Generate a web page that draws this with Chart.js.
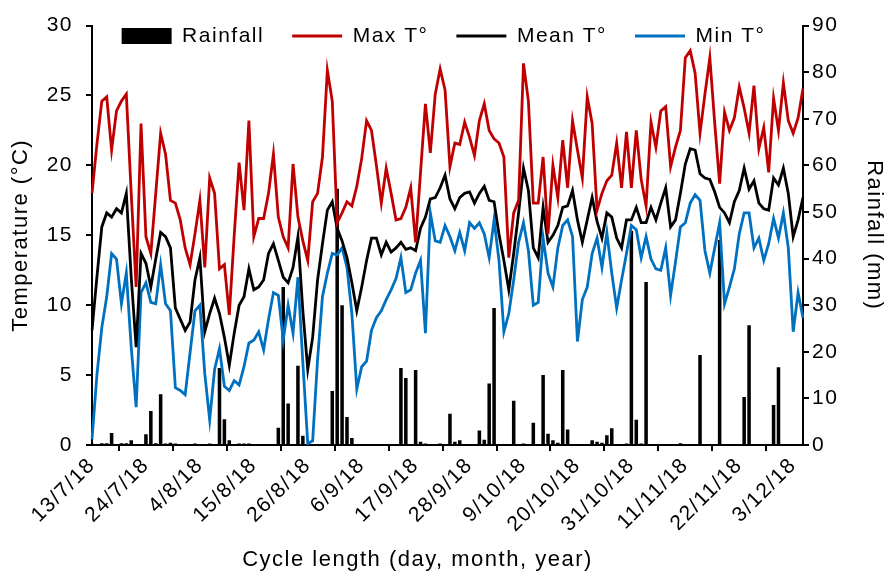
<!DOCTYPE html>
<html>
<head>
<meta charset="utf-8">
<title>Weather during the cycle</title>
<script src="https://cdn.jsdelivr.net/npm/chart.js@4.4.1/dist/chart.umd.min.js"></script>
<style>
  html, body { margin: 0; padding: 0; background: #fff; }
</style>
</head>
<body>
<canvas id="weather" width="887" height="573"></canvas>
<script>

// daily values, 13/7/18 to 5/12/18
var startDay = [2018, 6, 13];
var dayCount = 146;

var tickLabels = ['13/7/18', '24/7/18', '4/8/18', '15/8/18', '26/8/18', '6/9/18', '17/9/18',
  '28/9/18', '9/10/18', '20/10/18', '31/10/18', '11/11/18', '22/11/18', '3/12/18'];

var maxT = [
  18.0, 21.5, 24.6, 24.9, 21.1, 23.9, 24.6, 25.1, 18.0, 11.3,
  23.0, 14.9, 13.7, 18.0, 22.3, 20.8, 17.5, 17.3, 16.1, 14.1,
  12.9, 15.1, 17.5, 12.7, 19.1, 18.0, 12.6, 12.9, 9.3, 15.0,
  20.2, 16.8, 23.2, 14.9, 16.2, 16.2, 18.0, 20.8, 16.3, 14.9,
  14.1, 20.1, 16.3, 14.6, 13.2, 17.4, 18.0, 20.6, 26.8, 24.6,
  15.9, 16.6, 17.4, 17.1, 18.5, 20.5, 23.2, 22.5, 20.0, 17.3,
  19.8, 18.0, 16.1, 16.2, 17.0, 18.4, 14.5, 19.5, 24.4, 20.9,
  25.1, 26.9, 25.4, 19.9, 21.6, 21.5, 23.1, 22.0, 20.7, 23.2,
  24.4, 22.5, 21.9, 21.6, 20.6, 13.4, 16.6, 17.5, 27.3, 24.6,
  17.3, 17.3, 20.6, 15.1, 20.0, 17.7, 21.8, 18.4, 23.2, 21.1,
  19.1, 24.9, 23.0, 16.8, 18.0, 18.9, 19.3, 21.6, 18.4, 22.4,
  18.4, 22.5, 19.0, 17.1, 23.1, 21.3, 23.9, 24.2, 19.9, 21.3,
  22.5, 27.7, 28.2, 26.6, 22.3, 25.1, 27.7, 23.0, 18.7, 23.8,
  22.5, 23.4, 25.6, 24.1, 22.3, 25.7, 21.2, 22.7, 19.5, 24.8,
  22.5, 25.9, 23.2, 22.3, 23.4, 25.5
];

var meanT = [
  8.2, 12.0, 15.6, 16.6, 16.3, 16.9, 16.6, 18.0, 12.0, 7.0,
  13.7, 13.0, 11.3, 13.3, 15.2, 14.9, 14.1, 9.8, 9.0, 8.2,
  8.8, 11.8, 13.4, 8.1, 9.4, 10.5, 9.4, 7.7, 5.7, 8.0,
  10.0, 10.6, 12.6, 11.1, 11.3, 11.8, 13.7, 14.4, 13.2, 12.0,
  11.6, 12.7, 14.9, 9.6, 5.4, 7.7, 11.8, 14.4, 16.8, 17.4,
  15.5, 14.6, 13.4, 11.6, 9.6, 11.3, 13.2, 14.8, 14.8, 13.6,
  14.5, 13.8, 14.1, 14.5, 14.0, 14.1, 13.9, 15.5, 16.3, 17.6,
  17.7, 18.4, 19.3, 17.6, 16.9, 17.7, 18.0, 18.1, 17.3, 18.0,
  18.5, 17.5, 17.4, 15.1, 13.2, 11.1, 13.7, 16.6, 19.8, 18.2,
  14.1, 13.4, 17.0, 14.5, 15.0, 15.7, 17.0, 17.1, 18.2, 16.1,
  14.5, 16.1, 17.7, 16.0, 14.8, 16.6, 16.3, 14.8, 14.1, 16.1,
  16.1, 17.0, 15.9, 15.9, 17.0, 16.1, 17.3, 18.4, 15.6, 16.1,
  18.0, 20.1, 21.2, 21.1, 19.4, 19.1, 19.0, 18.1, 17.0, 16.6,
  15.9, 17.4, 18.2, 19.8, 18.3, 18.9, 17.3, 16.9, 16.8, 19.1,
  18.6, 19.8, 18.0, 14.9, 16.1, 17.7
];

var minT = [
  0.4, 5.0, 8.4, 10.6, 13.7, 13.3, 10.1, 12.3, 7.0, 2.7,
  10.9, 11.6, 10.2, 10.1, 12.9, 10.1, 9.6, 4.1, 3.9, 3.6,
  6.6, 9.6, 10.0, 5.1, 1.8, 5.4, 6.9, 4.2, 3.9, 4.6,
  4.3, 5.6, 7.3, 7.5, 8.1, 6.8, 9.0, 10.9, 10.7, 7.5,
  10.0, 8.0, 12.0, 5.9, 0.1, 0.3, 6.1, 10.6, 12.3, 13.7,
  13.6, 14.1, 12.7, 9.4, 4.0, 5.6, 6.0, 8.2, 9.1, 9.6,
  10.4, 11.1, 11.9, 13.4, 10.9, 11.1, 12.3, 13.2, 8.0, 16.6,
  14.6, 14.5, 15.7, 14.9, 13.9, 15.2, 13.9, 15.9, 15.5, 15.9,
  15.1, 13.4, 16.1, 13.2, 8.1, 9.4, 11.8, 14.5, 15.9, 13.9,
  10.0, 10.2, 14.8, 12.3, 11.3, 14.1, 15.7, 16.1, 14.9, 7.4,
  10.4, 11.3, 13.7, 14.8, 12.7, 15.2, 12.3, 9.8, 11.8, 13.7,
  15.7, 15.4, 13.4, 14.9, 13.3, 12.6, 12.5, 14.1, 10.7, 13.1,
  15.6, 15.9, 17.3, 17.9, 17.5, 13.9, 12.3, 14.1, 15.9, 10.1,
  11.3, 12.6, 15.1, 16.6, 16.6, 14.1, 14.8, 13.2, 14.4, 16.2,
  14.8, 16.6, 14.1, 8.1, 10.9, 9.1
];

var rainfall = [
  0.3, 0, 0.4, 0.4, 2.6, 0, 0.4, 0.4, 1.0, 0,
  0, 2.3, 7.3, 0.4, 10.9, 0.3, 0.5, 0.3, 0, 0,
  0, 0.3, 0, 0, 0.3, 0, 16.5, 5.5, 1.0, 0,
  0.3, 0.3, 0.3, 0, 0, 0, 0, 0, 3.7, 33.9,
  8.9, 0, 17.0, 2.0, 0, 0, 0, 0, 0, 11.6,
  55.0, 30.0, 6.0, 1.5, 0, 0, 0, 0, 0, 0,
  0, 0, 0, 16.5, 14.4, 0, 16.1, 0.7, 0.3, 0,
  0, 0.3, 0, 6.7, 0.7, 1.0, 0, 0, 0, 3.1,
  1.1, 13.2, 29.4, 0, 0, 0, 9.5, 0, 0.3, 0,
  4.8, 0, 15.0, 2.4, 1.0, 0.5, 16.1, 3.3, 0, 0,
  0, 0, 1.0, 0.7, 0.5, 2.1, 3.6, 0, 0, 0.3,
  46.0, 5.4, 0.3, 35.0, 0.2, 0, 0, 0.2, 0, 0,
  0.4, 0, 0, 0, 19.3, 0, 0, 0, 44.0, 0,
  0, 0, 0, 10.3, 25.7, 0.2, 0, 0, 0, 8.6,
  16.7, 0, 0, 0, 0, 0
];

// one category per day, written d/m/yy
var days = [];
for (var i = 0; i < dayCount; i++) {
  var d = new Date(startDay[0], startDay[1], startDay[2] + i);
  days.push(d.getDate() + '/' + (d.getMonth() + 1) + '/' + String(d.getFullYear()).slice(2));
}

var fontFamily = "'Liberation Sans', Arial, sans-serif";
var tickFont = { family: fontFamily, size: 21 };
var titleFont = { family: fontFamily, size: 22 };
var legendPadding = 28;
var legendRowY = 36;

// legend takes no room and is drawn inside the plot, on its top edge
var legendInside = {
  id: 'legendInside',
  afterInit: function(chart) {
    chart.ctx.letterSpacing = '1.5px';
    var lg = chart.legend;
    var fit = lg.fit;
    lg.fit = function() {
      fit.call(this);
      this.height = 0;
    };
  },
  afterLayout: function(chart) {
    var lg = chart.legend;
    lg.top = legendRowY - legendPadding - tickFont.size / 2;
    lg.bottom = lg.top + 70;   // the legend clips its drawing to this box

    // x title sits a little left of centre in the original
    var xs = chart.scales.x;
    if (!xs._shifted) {
      var drawTitle = xs.drawTitle;
      xs.drawTitle = function() {
        this.ctx.save();
        this.ctx.translate(-30, 0);
        drawTitle.apply(this, arguments);
        this.ctx.restore();
      };
      xs._shifted = true;
    }
  },
  beforeDraw: function(chart) {
    chart.ctx.letterSpacing = '1.5px';
  }
};

var data = {
  labels: days,
  datasets: [
    {
      type: 'bar',
      label: 'Rainfall',
      data: rainfall,
      yAxisID: 'y1',
      backgroundColor: '#000',
      borderWidth: 0,
      barPercentage: 0.72,
      categoryPercentage: 1,
      order: 1
    },
    {
      type: 'line',
      label: 'Max T°',
      data: maxT,
      yAxisID: 'y',
      borderColor: '#C00000',
      backgroundColor: '#C00000',
      borderWidth: 2.8,
      pointRadius: 0,
      tension: 0,
      fill: false,
      order: 0
    },
    {
      type: 'line',
      label: 'Mean T°',
      data: meanT,
      yAxisID: 'y',
      borderColor: '#000000',
      backgroundColor: '#000000',
      borderWidth: 2.8,
      pointRadius: 0,
      tension: 0,
      fill: false,
      order: 0
    },
    {
      type: 'line',
      label: 'Min T°',
      data: minT,
      yAxisID: 'y',
      borderColor: '#0070C0',
      backgroundColor: '#0070C0',
      borderWidth: 2.8,
      pointRadius: 0,
      tension: 0,
      fill: false,
      order: 0
    }
  ]
};

var options = {
  responsive: false,
  animation: false,
  events: [],
  layout: { padding: { top: 25, left: 0, right: 0, bottom: 0 } },
  plugins: {
    tooltip: { enabled: false },
    legend: {
      position: 'top',
      align: 'center',
      labels: {
        font: tickFont,
        color: '#000',
        usePointStyle: true,
        pointStyleWidth: 50,
        boxHeight: 16,
        padding: legendPadding,
        generateLabels: function(chart) {
          var items = Chart.defaults.plugins.legend.labels.generateLabels(chart);
          items.sort(function(a, b) { return a.datasetIndex - b.datasetIndex; });
          items.forEach(function(it) {
            var isBar = it.datasetIndex === 0;
            it.pointStyle = isBar ? 'rect' : 'line';
            it.lineWidth = isBar ? 0 : 3;
          });
          return items;
        }
      }
    }
  },
  scales: {
    x: {
      type: 'category',
      offset: false,
      border: { color: '#000', width: 2 },
      grid: { display: true, drawOnChartArea: false, drawTicks: true, tickLength: 6, color: '#000', lineWidth: 2 },
      ticks: {
        autoSkip: false,
        minRotation: 45,
        maxRotation: 45,
        padding: 2,
        font: tickFont,
        color: '#000',
        callback: function(value) {
          var lab = this.getLabelForValue(value);
          return tickLabels.indexOf(lab) >= 0 ? lab : null;
        }
      },
      title: {
        display: true,
        text: 'Cycle length (day, month, year)',
        font: titleFont,
        color: '#000',
        padding: { top: 0, bottom: 0 }
      },
      afterFit: function(scale) { scale.height = 128; }
    },
    y: {
      position: 'left',
      min: 0,
      max: 30,
      border: { color: '#000', width: 2 },
      grid: { display: true, drawOnChartArea: false, tickLength: 6, color: '#000', lineWidth: 2 },
      ticks: { stepSize: 5, padding: 13, font: tickFont, color: '#000' },
      title: {
        display: true,
        text: 'Temperature (°C)',
        font: titleFont,
        color: '#000',
        padding: { top: 8, bottom: 0 }
      },
      afterFit: function(scale) { scale.width = 92; }
    },
    y1: {
      position: 'right',
      min: 0,
      max: 90,
      border: { color: '#000', width: 2 },
      grid: { display: true, drawOnChartArea: false, tickLength: 6, color: '#000', lineWidth: 2 },
      ticks: { stepSize: 10, padding: 3, font: tickFont, color: '#000' },
      title: {
        display: true,
        text: 'Rainfall (mm)',
        font: titleFont,
        color: '#000',
        padding: { top: 0, bottom: 0 }
      },
      afterFit: function(scale) { scale.width = 84; }
    }
  }
};

var chart = new Chart(document.getElementById('weather'), {
  type: 'bar',
  data: data,
  options: options,
  plugins: [legendInside]
});

</script>
</body>
</html>
